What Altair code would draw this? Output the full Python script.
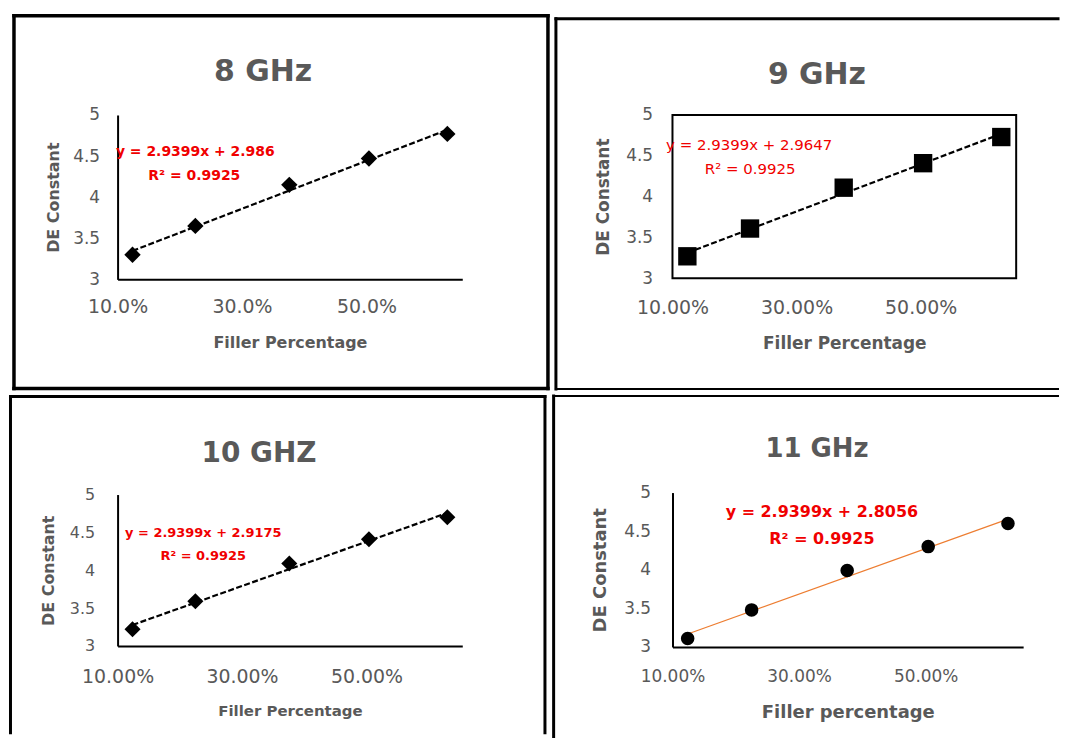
import altair as alt
import pandas as pd

# ---- data ----
FILLER = [0.124, 0.225, 0.376, 0.504, 0.630]
DE_8GHZ = [3.30, 3.65, 4.15, 4.47, 4.77]
DE_9GHZ = [3.27, 3.61, 4.11, 4.41, 4.73]
DE_10GHZ = [3.22, 3.59, 4.09, 4.41, 4.70]
DE_11GHZ = [3.11, 3.48, 3.99, 4.30, 4.60]

TITLES = ["8 GHz", "9 GHz", "10 GHZ", "11 GHz"]
EQUATIONS = ["y = 2.9399x + 2.986", "y = 2.9399x + 2.9647",
             "y = 2.9399x + 2.9175", "y = 2.9399x + 2.8056"]
R2_TEXT = ["R² = 0.9925", "R² = 0.9925", "R² = 0.9925", "R² = 0.9925"]
X_TITLES = ["Filler Percentage", "Filler Percentage", "Filler Percentage", "Filler percentage"]
Y_TITLE = "DE Constant"
X_TICKS = [0.1, 0.3, 0.5]
Y_TICKS = [3, 3.5, 4, 4.5, 5]
X_FORMATS = [".1%", ".2%", ".2%", ".2%"]
X_DOMAIN = [0.1, 0.654]
Y_DOMAIN = [3, 5]

FONT = "DejaVu Sans"
GRAY = "#595959"
RED = "#F00000"
ONE = alt.Data(values=[{}])


def text_layer(s, xv, yv, **kw):
    return alt.Chart(ONE).mark_text(**kw).encode(
        x=alt.value(xv), y=alt.value(yv), text=alt.value(s))


def hline(yv, x1, x2, w):
    return alt.Chart(ONE).mark_rule(color="black", strokeWidth=w, strokeCap="square").encode(
        y=alt.value(yv), x=alt.value(x1), x2=alt.value(x2))


def vline(xv, y1, y2, w):
    return alt.Chart(ONE).mark_rule(color="black", strokeWidth=w, strokeCap="square").encode(
        x=alt.value(xv), y=alt.value(y1), y2=alt.value(y2))


def panel(values, idx, st):
    df = pd.DataFrame({"filler": FILLER, "de": values})
    W, H = st["w"], st["h"]
    x = alt.X("filler:Q",
              scale=alt.Scale(domain=X_DOMAIN, nice=False, zero=False),
              axis=alt.Axis(values=X_TICKS, format=X_FORMATS[idx], title=X_TITLES[idx],
                            grid=False, ticks=False, tickSize=0,
                            domain=st["domain"], domainColor="black", domainWidth=2,
                            labelFont=FONT, labelFontSize=st["xls"], labelColor=GRAY,
                            labelPadding=st["xlp"], labelBaseline="middle",
                            labelFlush=False, labelOverlap=False,
                            titleFont=FONT, titleFontSize=st["xts"], titleFontWeight="bold",
                            titleColor=GRAY, titleX=W / 2, titleY=st["xty"],
                            titleBaseline="middle", titleAlign="center"))
    y = alt.Y("de:Q",
              scale=alt.Scale(domain=Y_DOMAIN, nice=False, zero=False),
              axis=alt.Axis(values=Y_TICKS, format="~g", title=Y_TITLE,
                            grid=False, ticks=False, tickSize=0,
                            domain=st["domain"], domainColor="black", domainWidth=2,
                            labelFont=FONT, labelFontSize=st["yls"], labelColor=GRAY,
                            labelPadding=st["ylp"], labelFlush=False, labelOverlap=False,
                            titleFont=FONT, titleFontSize=st["yts"], titleFontWeight="bold",
                            titleColor=GRAY, titleX=st["ytx"], titleY=H / 2,
                            titleBaseline="middle", titleAlign="center", titleAngle=270))
    base = alt.Chart(df)
    trend = base.transform_regression("filler", "de").mark_line(**st["line"]).encode(x=x, y=y)
    pts = base.mark_point(shape=st["shape"], filled=True, color="black",
                          size=st["size"], opacity=1).encode(x=x, y=y)
    layers = [trend, pts,
              text_layer(TITLES[idx], st["tx"], st["ty"], font=FONT, fontSize=st["tfs"],
                         fontWeight="bold", color=GRAY, align="center"),
              text_layer(EQUATIONS[idx], st["ex"], st["ey1"], font=FONT, fontSize=st["efs"],
                         fontWeight=st["efw"], color=RED, align="center", baseline="middle"),
              text_layer(R2_TEXT[idx], st["ex2"], st["ey2"], font=FONT, fontSize=st["efs"],
                         fontWeight=st["efw"], color=RED, align="center", baseline="middle")]
    layers += st["border"]
    props = dict(width=W, height=H)
    if st.get("box"):
        props["view"] = alt.ViewBackground(stroke="black", strokeWidth=2)
    return alt.layer(*layers).properties(**props)


DASH = dict(color="black", strokeWidth=2.2, strokeDash=[6, 2.5])

s1 = dict(w=346, h=165, domain=True, box=False,
          xls=19, xlp=27, xts=16, xty=63, yls=17, ylp=18, yts=16, ytx=-64,
          tx=146, ty=-43, tfs=30, ex=78, ey1=37, ex2=77, ey2=61, efs=14, efw="bold",
          shape="diamond", size=270, line=DASH,
          border=[hline(-99.5, -104, 432, 3.5), hline(274.5, -104, 432, 3.5),
                  vline(-104, -99.5, 274.5, 3.5), vline(432, -99.5, 274.5, 3.5)])

s2 = dict(w=345, h=164, domain=False, box=True,
          xls=19, xlp=29, xts=17, xty=65, yls=17, ylp=20, yts=17, ytx=-69,
          tx=145, ty=-40, tfs=30, ex=77, ey1=30, ex2=78, ey2=54, efs=15, efw="normal",
          shape="square", size=340, line=DASH,
          border=[hline(-96.5, -117, 387, 3), hline(275, -117, 387, 2),
                  vline(-117, -96.5, 275, 3)])

s3 = dict(w=346, h=152, domain=True, box=False,
          xls=19, xlp=31, xts=15, xty=65, yls=16, ylp=23, yts=16, ytx=-69,
          tx=142, ty=-41, tfs=28, ex=86, ey1=39, ex2=86, ey2=62, efs=13, efw="bold",
          shape="diamond", size=260, line=DASH,
          border=[hline(-98.5, -107.5, 429, 3),
                  vline(-107.5, -98.5, 239, 3), vline(429, -98.5, 239, 3)])

s4 = dict(w=352, h=155, domain=True, box=False,
          xls=17, xlp=30, xts=18, xty=66, yls=17, ylp=22, yts=18, ytx=-72,
          tx=145, ty=-44, tfs=26, ex=150, ey1=20, ex2=150, ey2=47, efs=16, efw="bold",
          shape="circle", size=185, line=dict(color="#ED7D31", strokeWidth=1.2),
          border=[hline(-97, -119.3, 387, 2), vline(-119.3, -97, 245, 3)])

p1 = panel(DE_8GHZ, 0, s1)
p2 = panel(DE_9GHZ, 1, s2)
p3 = panel(DE_10GHZ, 2, s3)
p4 = panel(DE_11GHZ, 3, s4)

colA = alt.vconcat(p1, p3, spacing=3)
colB = alt.vconcat(p2, p4, spacing=0)

chart = alt.hconcat(colA, colB, spacing=0).properties(
    padding={"top": 4, "left": 0, "right": 0, "bottom": 0}
).configure_view(stroke=None)

chart.save("out.html", embed_options={"renderer": "svg", "actions": False})
